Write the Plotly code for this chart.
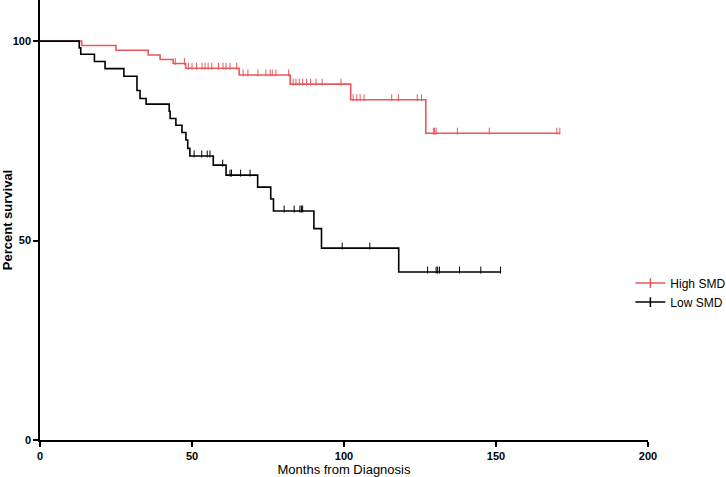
import plotly.graph_objects as go

# ---- data (months, percent survival) ----
high_event_t = [13.7, 25.0, 35.6, 39.5, 43.8, 47.9, 65.5, 82.3, 102.2, 126.9]
high_event_s = [98.9, 97.7, 96.5, 95.4, 94.4, 93.2, 91.5, 89.2, 85.3, 76.9]
high_end = 171.0
high_censor_t = [44.5, 47.5, 48.8, 50.0, 51.5, 53.3, 54.3, 55.3, 56.5, 58.7, 60.2, 61.2,
                 62.5, 64.7, 66.8, 68.4, 71.7, 74.3, 75.7, 76.4, 77.6, 81.8, 83.3, 84.2,
                 85.3, 86.4, 87.7, 89.0, 90.8, 92.8, 99.0, 103.0, 104.2, 105.3, 106.6,
                 115.7, 117.9, 124.1, 125.5, 129.4, 129.8, 130.3, 137.3, 147.8, 170.0, 171.0]

low_event_t = [12.9, 13.4, 17.9, 21.4, 27.6, 31.9, 32.9, 34.9, 42.5, 42.8, 44.7, 46.7,
               48.0, 48.6, 49.3, 57.0, 61.2, 71.6, 75.9, 76.8, 90.1, 92.6, 118.0]
low_event_s = [98.3, 96.7, 94.9, 93.1, 91.2, 87.6, 85.6, 84.2, 82.4, 80.6, 78.9, 77.1,
               75.2, 73.1, 71.2, 68.9, 66.4, 63.4, 60.4, 57.4, 53.0, 48.1, 42.1]
low_end = 151.5
low_censor_t = [50.7, 53.2, 55.0, 55.9, 60.1, 62.5, 63.0, 66.0, 69.1, 80.3, 83.6, 85.5,
                86.0, 86.4, 99.4, 108.5, 127.5, 130.3, 130.8, 131.4, 138.0, 145.0, 151.5]

x_ticks = [0, 50, 100, 150, 200]
y_ticks = [0, 50, 100]

RED = "#E8575A"
BLACK = "#000000"


def step_xy(ev_t, ev_s, end):
    xs = [0] + list(ev_t) + [end]
    ys = [100] + list(ev_s) + [ev_s[-1]]
    return xs, ys


def level_at(t, ev_t, ev_s):
    s = 100
    for et, es in zip(ev_t, ev_s):
        if et <= t:
            s = es
    return s


fig = go.Figure()

for name, color, ev_t, ev_s, end, cens in [
    ("High SMD", RED, high_event_t, high_event_s, high_end, high_censor_t),
    ("Low SMD", BLACK, low_event_t, low_event_s, low_end, low_censor_t),
]:
    xs, ys = step_xy(ev_t, ev_s, end)
    fig.add_trace(go.Scatter(x=xs, y=ys, mode="lines", line=dict(color=color, width=1.6, shape="hv"),
                             showlegend=False, hoverinfo="skip"))
    cy = [level_at(t, ev_t, ev_s) + 0.5 for t in cens]
    fig.add_trace(go.Scatter(x=cens, y=cy, mode="markers",
                             marker=dict(symbol="line-ns", size=5, line=dict(color=color, width=1)),
                             showlegend=False, hoverinfo="skip"))
    fig.add_trace(go.Scatter(x=[None], y=[None], mode="lines+markers", name=name,
                             line=dict(color=color, width=1.5),
                             marker=dict(symbol="line-ns", size=7, line=dict(color=color, width=1.5))))

fig.update_layout(
    width=726, height=477,
    margin=dict(l=40, r=78, t=0, b=37, autoexpand=False),
    paper_bgcolor="white", plot_bgcolor="white",
    font=dict(family="Liberation Sans, Arial, sans-serif", color="black", size=12),
    legend=dict(x=0.971, y=0.335, xanchor="left", yanchor="middle",
                font=dict(size=12), bgcolor="rgba(0,0,0,0)", itemwidth=30),
    xaxis=dict(range=[0, 200], tickvals=x_ticks, ticktext=[f"<b>{v}</b>" for v in x_ticks],
               showline=True, linecolor="black", linewidth=1.5, ticks="outside", ticklen=5,
               tickcolor="black", tickwidth=1.5, showgrid=False, zeroline=False,
               tickfont=dict(size=11), automargin=False,
               title=dict(text="Months from Diagnosis", font=dict(size=13), standoff=1)),
    yaxis=dict(range=[0, 110.3], tickvals=y_ticks, ticktext=[f"<b>{v}</b>" for v in y_ticks],
               showline=True, linecolor="black", linewidth=1.5, ticks="outside", ticklen=5,
               tickcolor="black", tickwidth=1.5, showgrid=False, zeroline=False,
               tickfont=dict(size=11), automargin=False,
               title=dict(text="<b>Percent survival</b>", font=dict(size=13), standoff=1)),
)

fig.write_html("out.html", config={"displayModeBar": False},
               post_script="document.body.style.margin='0';document.body.style.overflow='hidden';")
